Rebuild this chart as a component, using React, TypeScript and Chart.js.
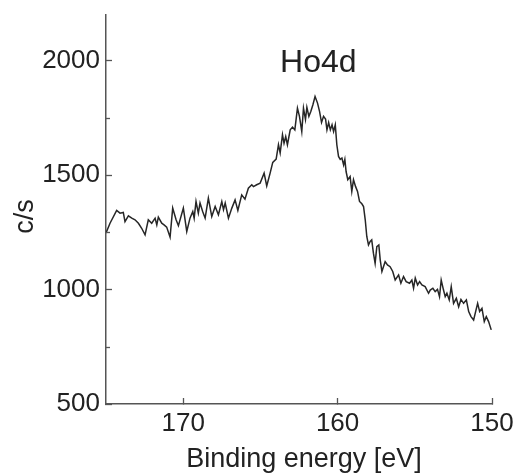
import React, { useEffect, useRef } from "react";
import { Chart, registerables } from "chart.js";

Chart.register(...registerables);

const ENERGY: number[] = [
  175.0, 174.74, 174.31, 174.09, 173.88, 173.77, 173.55, 173.33, 173.12, 172.9,
  172.69, 172.47, 172.26, 172.04, 171.82, 171.71, 171.61, 171.39, 171.24, 171.07,
  170.85, 170.68, 170.46, 170.31, 169.99, 169.77, 169.56, 169.38, 169.29, 169.17,
  169.02, 168.91, 168.74, 168.58, 168.37, 168.15, 167.93, 167.72, 167.5, 167.39,
  167.28, 167.07, 166.85, 166.64, 166.46, 166.21, 166.0, 165.78, 165.56, 165.45,
  165.24, 165.02, 164.76, 164.59, 164.37, 164.2, 163.98, 163.83, 163.72, 163.57,
  163.47, 163.36, 163.25, 163.07, 162.92, 162.77, 162.6, 162.47, 162.32, 162.21,
  162.08, 161.99, 161.86, 161.73, 161.6, 161.46, 161.3, 161.17, 161.04, 160.91,
  160.78, 160.69, 160.58, 160.47, 160.36, 160.26, 160.15, 160.05, 159.94, 159.83,
  159.72, 159.61, 159.53, 159.45, 159.34, 159.19, 159.08, 158.97, 158.84, 158.71,
  158.58, 158.43, 158.32, 158.21, 158.11, 158.0, 157.89, 157.79, 157.68, 157.57,
  157.46, 157.33, 157.24, 157.13, 157.03, 156.92, 156.77, 156.6, 156.43, 156.27,
  156.05, 155.9, 155.73, 155.56, 155.34, 155.19, 155.08, 154.97, 154.82, 154.69,
  154.54, 154.33, 154.11, 154.0, 153.83, 153.68, 153.53, 153.4, 153.29, 153.14,
  153.03, 152.92, 152.77, 152.64, 152.49, 152.31, 152.16, 152.01, 151.84, 151.66,
  151.51, 151.36, 151.19, 151.01, 150.93, 150.8, 150.65, 150.5, 150.37, 150.22,
  150.05,
];

const COUNTS: number[] = [
  1247, 1290, 1346, 1334, 1337, 1297, 1322, 1312, 1305, 1290,
  1268, 1239, 1305, 1290, 1312, 1283, 1317, 1290, 1283, 1273,
  1229, 1356, 1305, 1279, 1356, 1254, 1312, 1341, 1312, 1385,
  1334, 1378, 1341, 1312, 1400, 1319, 1363, 1327, 1385, 1349,
  1378, 1312, 1356, 1392, 1346, 1414, 1395, 1443, 1458, 1450,
  1458, 1465, 1509, 1453, 1509, 1556, 1570, 1633, 1597, 1677,
  1640, 1669, 1633, 1698, 1710, 1698, 1793, 1757, 1691, 1793,
  1743, 1797, 1757, 1779, 1808, 1844, 1815, 1779, 1730, 1757,
  1745, 1698, 1730, 1698, 1720, 1691, 1720, 1633, 1582, 1569,
  1575, 1545, 1569, 1516, 1480, 1494, 1429, 1480, 1451, 1429,
  1385, 1375, 1363, 1305, 1232, 1195, 1210, 1217, 1159, 1115,
  1188, 1195, 1130, 1079, 1100, 1122, 1108, 1100, 1079, 1042,
  1064, 1028, 1057, 1035, 1028, 1042, 1006, 1050, 1020, 1035,
  1020, 1013, 984, 998, 1006, 991, 1001, 969, 1042, 998,
  969, 984, 955, 1013, 940, 962, 925, 957, 940, 955,
  904, 882, 867, 918, 940, 904, 918, 860, 882, 860,
  824,
];

const X_TICKS: number[] = [170, 160, 150];
const Y_TICKS: number[] = [500, 1000, 1500, 2000];
const Y_MINOR_TICKS: number[] = [750, 1250, 1750];
const TITLE_TEXT = "Ho4d";
const X_LABEL = "Binding energy [eV]";
const Y_LABEL = "c/s";

const FONT = "'Liberation Sans', Arial, Helvetica, sans-serif";
const TEXT_COLOR = "#222222";
const AXIS_COLOR = "#555555";

const overlayPlugin = {
  id: "overlay",
  afterDraw(chart: any) {
    const { ctx, scales, chartArea, height } = chart;
    const ys = scales.y;
    const xs = scales.x;
    ctx.save();
    ctx.strokeStyle = AXIS_COLOR;
    ctx.lineWidth = 1.3;
    for (const v of Y_MINOR_TICKS) {
      const py = Math.round(ys.getPixelForValue(v)) + 0.5;
      ctx.beginPath();
      ctx.moveTo(chartArea.left, py);
      ctx.lineTo(chartArea.left + 4, py);
      ctx.stroke();
    }
    ctx.fillStyle = TEXT_COLOR;
    ctx.font = `32px ${FONT}`;
    ctx.textAlign = "center";
    ctx.textBaseline = "alphabetic";
    ctx.fillText(TITLE_TEXT, xs.getPixelForValue(161.25), ys.getPixelForValue(1950));

    // x axis title
    ctx.font = `27px ${FONT}`;
    ctx.textBaseline = "middle";
    ctx.fillText(X_LABEL, (chartArea.left + chartArea.right) / 2 + 5, height - 13.5);

    // y axis title
    ctx.translate(18, (chartArea.top + chartArea.bottom) / 2 + 7);
    ctx.rotate(-Math.PI / 2);
    ctx.fillText(Y_LABEL, 0, 0);
    ctx.restore();
  },
};

export default function App() {
  const ref = useRef<HTMLCanvasElement | null>(null);
  useEffect(() => {
    if (!ref.current) return;
    const chart = new Chart(ref.current, {
      type: "line",
      data: {
        datasets: [
          {
            data: ENERGY.map((e, i) => ({ x: e, y: COUNTS[i] })),
            borderColor: "#262626",
            borderWidth: 1.5,
            pointRadius: 0,
            tension: 0,
            fill: false,
          },
        ],
      },
      options: {
        animation: false,
        responsive: true,
        maintainAspectRatio: false,
        layout: { padding: { left: 0, right: 21, top: 7, bottom: 0 } },
        plugins: {
          legend: { display: false },
          tooltip: { enabled: false },
        },
        scales: {
          x: {
            type: "linear",
            min: 150,
            max: 175,
            reverse: true,
            afterBuildTicks: (s: any) => {
              s.ticks = X_TICKS.map((v) => ({ value: v }));
            },
            afterFit: (s: any) => {
              s.height = 69;
              s.paddingLeft = 0;
              s.paddingRight = 0;
            },
            grid: {
              drawOnChartArea: false,
              drawTicks: true,
              tickLength: -6,
              tickColor: AXIS_COLOR,
              tickWidth: 1.3,
            },
            border: { display: true, color: AXIS_COLOR, width: 1.5 },
            ticks: {
              color: TEXT_COLOR,
              font: { family: FONT, size: 26, lineHeight: 1.0 },
              padding: 13,
              maxRotation: 0,
              callback: (v: any) => String(v),
            },
            title: { display: false },
          },
          y: {
            type: "linear",
            min: 500,
            max: 2200,
            afterBuildTicks: (s: any) => {
              s.ticks = Y_TICKS.map((v) => ({ value: v }));
            },
            afterFit: (s: any) => {
              s.width = 98;
              s.paddingTop = 0;
              s.paddingBottom = 0;
            },
            grid: {
              drawOnChartArea: false,
              drawTicks: true,
              tickLength: -6,
              tickColor: AXIS_COLOR,
              tickWidth: 1.3,
            },
            border: { display: true, color: AXIS_COLOR, width: 1.5 },
            ticks: {
              color: TEXT_COLOR,
              font: { family: FONT, size: 26, lineHeight: 1.0 },
              padding: 12,
              callback: (v: any) => String(v),
            },
            title: { display: false },
          },
        },
      },
      plugins: [overlayPlugin],
    });
    return () => chart.destroy();
  }, []);
  return (
    <div style={{ width: "505px", height: "465px", position: "relative" }}>
      <canvas ref={ref} />
    </div>
  );
}
